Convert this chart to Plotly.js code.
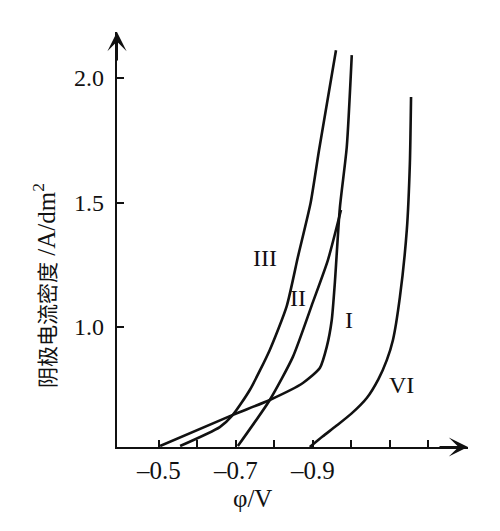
<!DOCTYPE html>
<html>
<head>
<meta charset="utf-8">
<script src="https://cdn.plot.ly/plotly-3.0.1.min.js"></script>
<style>
  html, body { margin: 0; padding: 0; background: #fff; }
  #chart { width: 500px; height: 531px; }
</style>
</head>
<body>
<div id="chart"></div>
<script>
// curve I : near-straight rise, knee, then steep
var phiI = [-0.503, -0.692, -0.788, -0.874, -0.918, -0.936, -0.949, -0.957, -0.970, -0.988, -1.001];
var iI   = [0.522, 0.647, 0.707, 0.775, 0.835, 0.920, 1.028, 1.177, 1.478, 1.723, 2.092];

// curve II : from -0.7 up to where it meets curve I
var phiII = [-0.705, -0.788, -0.848, -0.900, -0.939, -0.973];
var iII   = [0.522, 0.707, 0.880, 1.100, 1.269, 1.470];

// curve III
var phiIII = [-0.555, -0.658, -0.692, -0.736, -0.788, -0.832, -0.861, -0.894, -0.916, -0.960];
var iIII   = [0.522, 0.598, 0.647, 0.747, 0.908, 1.084, 1.281, 1.498, 1.711, 2.112];

// curve VI
var phiVI = [-0.892, -0.925, -0.960, -1.000, -1.040, -1.070, -1.092, -1.108, -1.126, -1.144, -1.152, -1.155];
var iVI   = [0.518, 0.560, 0.602, 0.652, 0.715, 0.790, 0.867, 0.948, 1.120, 1.390, 1.659, 1.924];

var curveNames = ['I', 'II', 'III', 'VI'];
var labelX = [-0.994, -0.861, -0.775, -1.131];
var labelY = [1.028, 1.116, 1.277, 0.767];

var xTicks = [-0.5, -0.6, -0.7, -0.8, -0.9, -1.0, -1.1, -1.2];
var xTickText = ['\u20130.5', '', '\u20130.7', '', '\u20130.9', '', '', ''];
var yTicks = [1.0, 1.5, 2.0];
var yTickText = ['1.0', '1.5', '2.0'];

var xTitle = '\u03c6/V';
var yTitleCn = '阴极电流密度';
var yTitleUnit = ' /A/dm<sup>2</sup>';

var serif = 'Liberation Serif, Times New Roman, serif';
var ink = '#111';
var lineStyle = {color: ink, width: 2.6, shape: 'spline', smoothing: 0.6};

function trace(x, y) {
  return {x: x, y: y, mode: 'lines', line: lineStyle, hoverinfo: 'skip'};
}

var data = [
  trace(phiI, iI),
  trace(phiII, iII),
  trace(phiIII, iIII),
  trace(phiVI, iVI)
];

var annotations = curveNames.map(function (n, k) {
  return {x: labelX[k], y: labelY[k], xref: 'x', yref: 'y', text: n, showarrow: false,
          font: {family: serif, size: 24, color: ink}};
});

// axis titles placed by hand, as in the figure
annotations.push({xref: 'paper', yref: 'paper', x: 0.385, y: 0, yshift: -51,
  xanchor: 'center', yanchor: 'middle', showarrow: false, text: xTitle,
  font: {family: serif, size: 25, color: ink}});
annotations.push({xref: 'paper', yref: 'paper', x: 0, xshift: -73, y: 0.388,
  xanchor: 'center', yanchor: 'middle', showarrow: false, textangle: -90,
  text: '<span style="font-size:21px">' + yTitleCn + '</span>' + yTitleUnit,
  font: {family: serif + ', Noto Sans CJK SC', size: 25, color: ink}});

// axis arrows
annotations.push({xref: 'paper', yref: 'paper', x: 1, y: 0, ax: -30, ay: 0,
  showarrow: true, arrowhead: 3, arrowsize: 1.6, arrowwidth: 2, arrowcolor: ink, text: ''});
annotations.push({xref: 'paper', yref: 'paper', x: 0, y: 1, ax: 0, ay: 30,
  showarrow: true, arrowhead: 3, arrowsize: 1.6, arrowwidth: 2, arrowcolor: ink, text: ''});

var layout = {
  width: 500,
  height: 531,
  margin: {l: 117, r: 32, t: 32, b: 84},
  paper_bgcolor: '#fff',
  plot_bgcolor: '#fff',
  showlegend: false,
  font: {family: serif, color: ink},
  xaxis: {
    range: [-0.391, -1.303],
    tickvals: xTicks,
    ticktext: xTickText,
    ticks: 'inside',
    ticklen: 7,
    tickwidth: 2,
    tickcolor: ink,
    showline: true,
    linewidth: 2.2,
    linecolor: ink,
    showgrid: false,
    zeroline: false,
    tickfont: {family: serif, size: 25, color: ink}
  },
  yaxis: {
    range: [0.518, 2.185],
    tickvals: yTicks,
    ticktext: yTickText,
    ticks: 'inside',
    ticklen: 7,
    tickwidth: 2,
    tickcolor: ink,
    showline: true,
    linewidth: 2.2,
    linecolor: ink,
    showgrid: false,
    zeroline: false,
    ticklabelstandoff: 6,
    tickfont: {family: serif, size: 24, color: ink}
  },
  annotations: annotations
};

Plotly.newPlot('chart', data, layout, {staticPlot: true, displayModeBar: false});
</script>
</body>
</html>
